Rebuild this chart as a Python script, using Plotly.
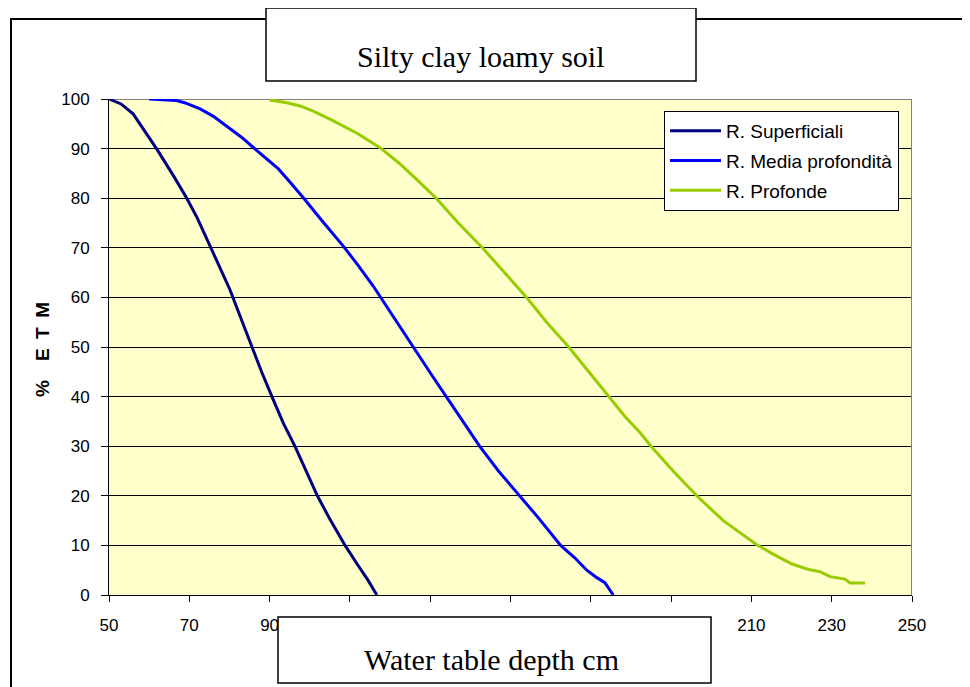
import plotly.graph_objects as go

# ---- data ----
sup_x = [50, 53, 56, 59, 62, 66, 69.3, 72, 75.2, 78, 80.1, 83, 85.6, 88, 90.9, 93.5,
         96.3, 99, 101.9, 105, 108.8, 112, 114.5, 116.7]
sup_y = [100, 99, 97, 93.5, 89.8, 84.6, 80.1, 76, 70.4, 65.5, 61.6, 55.5, 50, 45, 39.4, 34.5,
         30, 25.2, 20, 15.3, 10, 6, 3, 0]

med_x = [60, 63, 66.8, 69, 72.7, 76, 79.3, 83, 86.4, 92.2, 95, 98.4, 103, 108.3, 112, 115.8,
         120.5, 125.7, 130, 134.5, 138.5, 142.3, 147, 152.3, 157, 162.5, 166, 169, 171.5,
         173.5, 175.6]
med_y = [100, 99.9, 99.7, 99.2, 98, 96.5, 94.6, 92.3, 89.9, 85.9, 83.3, 80.1, 75.5, 70.4, 66.5,
         62.3, 56.5, 50, 44.8, 39.4, 34.5, 30, 25, 20, 15.5, 10, 7.5, 5, 3.5, 2.5, 0]

pro_x = [90, 94, 97.6, 101, 105.9, 112, 117.5, 122.5, 127, 131.5, 137, 143, 148.5, 154, 159,
         164.5, 169.5, 174.5, 178.5, 182.3, 185, 190.5, 196.4, 203, 211.6, 216, 220, 224,
         227.1, 229.6, 233.3, 234.6, 238.3]
pro_y = [99.8, 99.3, 98.6, 97.5, 95.6, 93, 90.2, 86.9, 83.5, 80, 75, 70, 65, 60, 55,
         50, 45, 40, 36, 32.7, 30, 25, 20, 15, 10, 8, 6.3, 5.2,
         4.7, 3.7, 3.2, 2.4, 2.4]

series_names = ["R. Superficiali", "R. Media profondità", "R. Profonde"]
series_colors = ["#000080", "#0000FF", "#99CC00"]

x_ticks = [50, 70, 90, 110, 130, 150, 170, 190, 210, 230, 250]
y_ticks = [0, 10, 20, 30, 40, 50, 60, 70, 80, 90, 100]

title_text = "Silty clay loamy soil"
x_title = "Water table depth cm"
y_title = "%\u2002\u2002E\u2002T\u2002M"

SANS = "Liberation Sans, Arial, sans-serif"
SERIF = "Liberation Serif, Times New Roman, serif"

# ---- figure ----
fig = go.Figure()
for i, (xs, ys, name, col) in enumerate(zip([sup_x, med_x, pro_x], [sup_y, med_y, pro_y],
                                            series_names, series_colors)):
    fig.add_trace(go.Scatter(x=xs, y=ys, mode="lines", name=name, legendgroup=f"g{i}",
                             line=dict(color=col, width=3)))

# page is rendered with an 8px body margin
OFF = 8
PAGE_W, PAGE_H = 970, 687
PL, PR, PT, PB = 109, 912, 99, 595          # plot area in page pixels
W, H = PAGE_W - OFF, PAGE_H - OFF
L, T = PL - OFF, PT - OFF
R, B = PAGE_W - PR, PAGE_H - PB


def px(xp):
    return (xp - PL) / (PR - PL)


def py(yp):
    return (PB - yp) / (PB - PT)


fig.update_layout(
    width=W, height=H,
    margin=dict(l=L, r=R, t=T, b=B, pad=0),
    paper_bgcolor="white",
    plot_bgcolor="#FFFFCC",
    showlegend=True,
    legend=dict(x=px(664), y=py(111), xanchor="left", yanchor="top",
                bgcolor="white", bordercolor="black", borderwidth=1,
                font=dict(family=SANS, size=19, color="black"),
                tracegroupgap=2, itemwidth=51),
    xaxis=dict(range=[50, 250], tickvals=x_ticks, ticktext=[str(v) for v in x_ticks],
               showgrid=False, zeroline=False, showline=True, linecolor="black",
               linewidth=1, ticks="outside", ticklen=6, tickcolor="black",
               tickfont=dict(family=SANS, size=17, color="black"),
               ticklabelstandoff=9),
    yaxis=dict(range=[0, 100], tickvals=y_ticks, ticktext=[str(v) for v in y_ticks],
               showgrid=True, gridcolor="black", gridwidth=1, zeroline=False,
               showline=True, linecolor="black", linewidth=1, ticks="outside",
               ticklen=7, tickcolor="black",
               tickfont=dict(family=SANS, size=17, color="black"),
               ticklabelstandoff=8),
)

shapes = [
    # outer chart-area frame
    dict(type="rect", xref="paper", yref="paper", x0=px(11), x1=px(990), y0=py(700), y1=py(19),
         line=dict(color="black", width=2), fillcolor="rgba(0,0,0,0)", layer="below"),
    # gray top and right borders of the plot area
    dict(type="line", xref="x", yref="y", x0=50, x1=250, y0=100, y1=100,
         line=dict(color="#808080", width=2), layer="between"),
    dict(type="line", xref="x", yref="y", x0=250, x1=250, y0=0, y1=100,
         line=dict(color="#808080", width=2), layer="between"),
    # title box
    dict(type="rect", xref="paper", yref="paper", x0=px(266), x1=px(696), y0=py(81), y1=py(8),
         line=dict(color="black", width=1.5), fillcolor="white", layer="above"),
    # x-axis title box
    dict(type="rect", xref="paper", yref="paper", x0=px(278), x1=px(711), y0=py(683), y1=py(617),
         line=dict(color="black", width=1.5), fillcolor="white", layer="above"),
]
fig.update_layout(shapes=shapes)

fig.add_annotation(text=title_text, xref="paper", yref="paper", x=px(481), y=py(57),
                   xanchor="center", yanchor="middle", showarrow=False,
                   font=dict(family=SERIF, size=30, color="black"))
fig.add_annotation(text=x_title, xref="paper", yref="paper", x=px(491), y=py(659),
                   xanchor="center", yanchor="middle", showarrow=False,
                   font=dict(family=SERIF, size=30, color="black"))
fig.add_annotation(text="<b>" + y_title + "</b>", xref="paper", yref="paper", x=px(42), y=py(350),
                   xanchor="center", yanchor="middle", showarrow=False, textangle=-90,
                   font=dict(family=SANS, size=19, color="black"))

fig.write_html("out.html")
